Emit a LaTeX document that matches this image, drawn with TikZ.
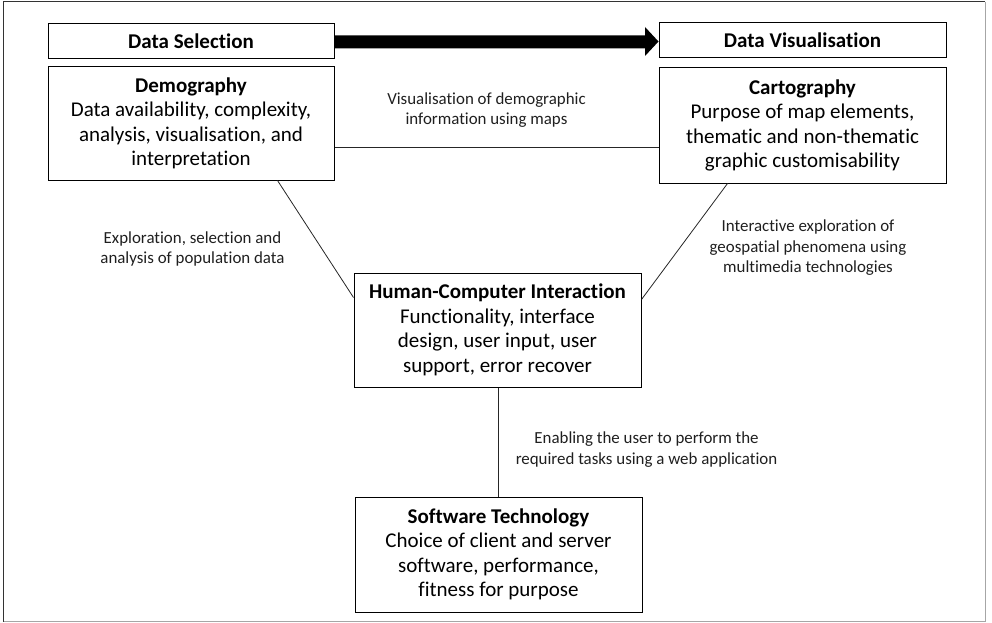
\documentclass[tikz,border=0pt]{standalone}
\usepackage{fontspec}
\setmainfont{Carlito}[RawFeature=-liga]
\usetikzlibrary{calc}
\tikzset{
  box/.style={draw=black, line width=1pt, fill=white, align=center, inner sep=2pt,
    font=\fontsize{21}{24.5}\selectfont},
  headbox/.style={box, minimum width=286pt, minimum height=35pt, font=\fontsize{21}{25}\selectfont\bfseries},
  mainbox/.style={box, minimum width=287pt, minimum height=114pt},
  link/.style={draw=black!85, line width=0.8pt},
  note/.style={align=center, text=black!88, font=\fontsize{16.9}{20.5}\selectfont}
}
\begin{document}
\begin{tikzpicture}[x=1pt,y=-1pt]
\useasboundingbox (0,0) rectangle (992,623);
% outer frame
\draw[black!35, line width=1pt] (985,2) -- (985,621.5) -- (3,621.5);
\draw[black!80, line width=1pt] (3,621.5) -- (3,2) -- (985,2);

% header boxes
\node[headbox] (sel) at (191,41.5) {Data Selection};
\node[headbox, minimum width=287pt] (vis) at (802.5,40.5) {Data Visualisation};

% big arrow
\fill[black] (sel.east |- 0,35.5) -- (645,35.5) -- (645,27) -- (vis.west |- 0,41.5)
  -- (645,56) -- (645,48.5) -- (sel.east |- 0,48.5) -- cycle;

% main boxes
\node[mainbox, minimum width=286pt, minimum height=113pt] (dem) at (191,123.5)
  {\textbf{Demography}\\Data availability, complexity,\\analysis, visualisation, and\\interpretation};
\node[mainbox, minimum height=115pt] (car) at (802.5,125.5)
  {\textbf{Cartography}\\Purpose of map elements,\\thematic and non-thematic\\graphic customisability};
\node[mainbox] (hci) at (497.5,330)
  {\textbf{Human-Computer Interaction}\\Functionality, interface\\design, user input, user\\support, error recover};
\node[mainbox, minimum height=115pt] (sw) at (498.5,554.5)
  {\textbf{Software Technology}\\Choice of client and server\\software, performance,\\fitness for purpose};

% connectors
\draw[link] (dem.east |- 0,147) -- (car.west |- 0,147);
\draw[link] ($(dem.south west)+(230,0)$) -- ($(hci.north west)+(0,25)$);
\draw[link] ($(car.south west)+(69,0)$) -- ($(hci.north east)+(0,27)$);
\draw[link] (hci.south -| 498,0) -- (sw.north -| 498,0);

% labels
\node[note] (l1) at (486.5,110) {Visualisation of demographic\\information using maps};
\node[note] (l2) at (192.5,249) {Exploration, selection and\\analysis of population data};
\node[note] (l3) at (808,248) {Interactive exploration of\\geospatial phenomena using\\multimedia technologies};
\node[note] (l4) at (646.5,449.5) {Enabling the user to perform the\\required tasks using a web application};
\end{tikzpicture}
\end{document}
